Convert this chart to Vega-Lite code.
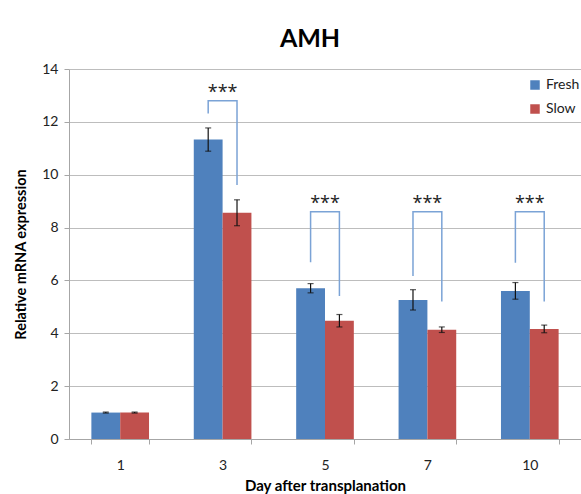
{
  "$schema": "https://vega.github.io/schema/vega-lite/v6.json",
  "width": 512,
  "height": 370,
  "autosize": "none",
  "padding": {"left": 69, "top": 69, "right": 0, "bottom": 55},
  "background": "white",
  "config": {
    "font": "Lato",
    "view": {"stroke": null},
    "axis": {"domainColor": "#a6a6a6", "tickColor": "#a6a6a6", "gridColor": "#bdbdbd", "labelColor": "#222222", "titleColor": "#000000", "labelFontSize": 14, "titleFontSize": 15, "titleFontWeight": "bold"}
  },
  "title": {"text": "AMH", "fontSize": 25, "fontWeight": "bold", "color": "#000000", "anchor": "middle", "dx": -15, "offset": 10},
  "datasets": {
    "bars": [
      {"day": "1", "group": "Fresh", "value": 1.0, "lo": 0.98, "hi": 1.02},
      {"day": "1", "group": "Slow", "value": 1.0, "lo": 0.98, "hi": 1.02},
      {"day": "3", "group": "Fresh", "value": 11.33, "lo": 10.89, "hi": 11.77},
      {"day": "3", "group": "Slow", "value": 8.56, "lo": 8.07, "hi": 9.05},
      {"day": "5", "group": "Fresh", "value": 5.70, "lo": 5.53, "hi": 5.88},
      {"day": "5", "group": "Slow", "value": 4.47, "lo": 4.24, "hi": 4.71},
      {"day": "7", "group": "Fresh", "value": 5.26, "lo": 4.88, "hi": 5.65},
      {"day": "7", "group": "Slow", "value": 4.13, "lo": 4.03, "hi": 4.24},
      {"day": "10", "group": "Fresh", "value": 5.60, "lo": 5.29, "hi": 5.92},
      {"day": "10", "group": "Slow", "value": 4.16, "lo": 4.02, "hi": 4.31}
    ],
    "brackets": [
      {"day": "3", "group": "Fresh", "y": 12.32, "seq": 0},
      {"day": "3", "group": "Fresh", "y": 12.8, "seq": 1},
      {"day": "3", "group": "Slow", "y": 12.8, "seq": 2},
      {"day": "3", "group": "Slow", "y": 9.61, "seq": 3},
      {"day": "5", "group": "Fresh", "y": 6.69, "seq": 0},
      {"day": "5", "group": "Fresh", "y": 8.6, "seq": 1},
      {"day": "5", "group": "Slow", "y": 8.6, "seq": 2},
      {"day": "5", "group": "Slow", "y": 5.41, "seq": 3},
      {"day": "7", "group": "Fresh", "y": 6.17, "seq": 0},
      {"day": "7", "group": "Fresh", "y": 8.6, "seq": 1},
      {"day": "7", "group": "Slow", "y": 8.6, "seq": 2},
      {"day": "7", "group": "Slow", "y": 5.2, "seq": 3},
      {"day": "10", "group": "Fresh", "y": 6.67, "seq": 0},
      {"day": "10", "group": "Fresh", "y": 8.6, "seq": 1},
      {"day": "10", "group": "Slow", "y": 8.6, "seq": 2},
      {"day": "10", "group": "Slow", "y": 5.2, "seq": 3}
    ],
    "stars": [
      {"day": "3", "y": 12.8, "label": "***"},
      {"day": "5", "y": 8.6, "label": "***"},
      {"day": "7", "y": 8.6, "label": "***"},
      {"day": "10", "y": 8.6, "label": "***"}
    ]
  },
  "encoding": {
    "x": {
      "field": "day", "type": "nominal", "sort": ["1", "3", "5", "7", "10"],
      "scale": {"paddingInner": 0.437, "paddingOuter": 0.2185},
      "axis": {"labelAngle": 0, "tickBand": "extent", "tickSize": 5, "labelPadding": 14, "title": "Day after transplanation", "titlePadding": 6, "grid": false}
    }
  },
  "layer": [
    {
      "data": {"name": "bars"},
      "mark": {"type": "bar"},
      "encoding": {
        "xOffset": {"field": "group", "type": "nominal", "sort": ["Fresh", "Slow"]},
        "y": {"field": "value", "type": "quantitative", "scale": {"domain": [0, 14]}, "axis": {"values": [0, 2, 4, 6, 8, 10, 12, 14], "tickSize": 5, "labelPadding": 6, "title": "Relative mRNA expression", "titleFontSize": 14.5, "titlePadding": 13, "grid": true}},
        "color": {"field": "group", "type": "nominal", "sort": ["Fresh", "Slow"], "scale": {"domain": ["Fresh", "Slow"], "range": ["#4f81bd", "#c0504d"]}, "legend": {"title": null, "orient": "none", "legendX": 459, "legendY": 9, "symbolType": "square", "symbolSize": 90, "symbolStrokeWidth": 0, "labelFontSize": 14, "labelColor": "#222222", "rowPadding": 10, "labelOffset": 4}}
      }
    },
    {
      "data": {"name": "bars"},
      "mark": {"type": "rule", "color": "#111111", "strokeWidth": 1.2},
      "encoding": {
        "xOffset": {"field": "group", "type": "nominal", "sort": ["Fresh", "Slow"]},
        "y": {"field": "lo", "type": "quantitative"},
        "y2": {"field": "hi"}
      }
    },
    {
      "data": {"name": "bars"},
      "mark": {"type": "tick", "color": "#111111", "size": 6, "thickness": 1.2},
      "encoding": {
        "xOffset": {"field": "group", "type": "nominal", "sort": ["Fresh", "Slow"]},
        "y": {"field": "lo", "type": "quantitative"}
      }
    },
    {
      "data": {"name": "bars"},
      "mark": {"type": "tick", "color": "#111111", "size": 6, "thickness": 1.2},
      "encoding": {
        "xOffset": {"field": "group", "type": "nominal", "sort": ["Fresh", "Slow"]},
        "y": {"field": "hi", "type": "quantitative"}
      }
    },
    {
      "data": {"name": "brackets"},
      "mark": {"type": "line", "color": "#7ba3d6", "strokeWidth": 1.5},
      "encoding": {
        "xOffset": {"field": "group", "type": "nominal", "sort": ["Fresh", "Slow"]},
        "y": {"field": "y", "type": "quantitative"},
        "detail": {"field": "day"},
        "order": {"field": "seq", "type": "quantitative"}
      }
    },
    {
      "data": {"name": "stars"},
      "mark": {"type": "text", "font": "Open Sans", "fontSize": 18, "color": "#222222", "baseline": "alphabetic", "dy": -3},
      "encoding": {
        "y": {"field": "y", "type": "quantitative"},
        "text": {"field": "label"}
      }
    }
  ]
}
